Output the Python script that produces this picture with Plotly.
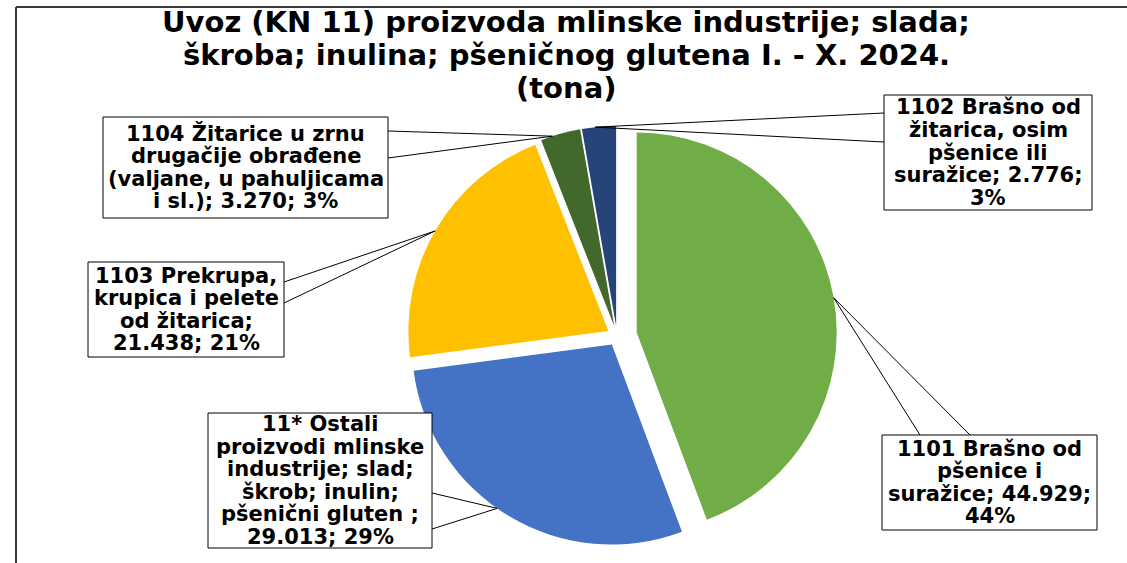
import math
import textwrap
import plotly.graph_objects as go

W, H = 1127, 563

# --- data -------------------------------------------------------------
names = [
    "1101 Brašno od pšenice i suražice",
    "11* Ostali proizvodi mlinske industrije; slad; škrob; inulin; pšenični gluten ",
    "1103 Prekrupa, krupica i pelete od žitarica",
    "1104 Žitarice u zrnu drugačije obrađene (valjane, u pahuljicama i sl.)",
    "1102 Brašno od žitarica, osim pšenice ili suražice",
]
tonnes = [44929, 29013, 21438, 3270, 2776]
colors = ["#70AD47", "#4472C4", "#FFC000", "#43682B", "#264478"]
title_lines = [
    "Uvoz (KN 11) proizvoda mlinske industrije; slada;",
    "škroba; inulina; pšeničnog glutena I. - X. 2024.",
    "(tona)",
]

# --- layout helpers ---------------------------------------------------
def px(x):
    return x / W


def py(y):
    return 1 - y / H


pulls = [0.1, 0.05, 0.05, 0.05, 0.05]
R = 200
CX, CY = 617, 336
S = 2 * R * (1 + max(pulls))

fig = go.Figure()
fig.add_trace(go.Pie(
    values=tonnes,
    labels=names,
    sort=False,
    direction="clockwise",
    rotation=0,
    pull=pulls,
    marker=dict(colors=colors, line=dict(width=0)),
    textinfo="none",
    hoverinfo="label+value+percent",
    showlegend=False,
    domain=dict(x=[px(CX - S / 2), px(CX + S / 2)],
                y=[py(CY + S / 2), py(CY - S / 2)]),
))

# data-label callouts: box (x0, y0, x1, y1), wedge base points, tip angle, wrap width
boxes = [
    (882, 435, 1097, 530),
    (208, 413, 432, 548),
    (88, 262, 284, 357),
    (103, 117, 388, 218),
    (884, 95, 1092, 210),
]
bases = [
    ((920, 435), (970, 435)),
    ((432, 493), (432, 529)),
    ((284, 282), (284, 303)),
    ((388, 131), (388, 158)),
    ((884, 113), (884, 142)),
]
tip_angles = [80, 215, 300, 342, 354]
wrap_widths = [17, 17, 16, 23, 16]

total = sum(tonnes)
shapes = []
annotations = []
LS = 22.5
cum = 0
for i, v in enumerate(tonnes):
    a0 = cum / total * 360
    cum += v
    a1 = cum / total * 360
    phi = math.radians((a0 + a1) / 2)
    ox = pulls[i] * R * math.sin(phi)
    oy = -pulls[i] * R * math.cos(phi)
    th = math.radians(tip_angles[i])
    tx = CX + ox + R * math.sin(th)
    ty = CY + oy - R * math.cos(th)

    (bx1, by1), (bx2, by2) = bases[i]
    shapes.append(dict(
        type="path", xref="paper", yref="paper",
        path=f"M {px(bx1)},{py(by1)} L {px(tx)},{py(ty)} L {px(bx2)},{py(by2)}",
        line=dict(color="black", width=1),
    ))
    x0, y0, x1, y1 = boxes[i]
    shapes.append(dict(
        type="rect", xref="paper", yref="paper",
        x0=px(x0), x1=px(x1), y0=py(y1), y1=py(y0),
        line=dict(color="black", width=1), fillcolor="white",
    ))

    value_txt = f"{v:,}".replace(",", ".")
    pct = round(100 * v / total)
    label = f"{names[i]}; {value_txt}; {pct}%"
    lines = textwrap.wrap(label, width=wrap_widths[i])
    cxb = (x0 + x1) / 2
    cyb = (y0 + y1) / 2
    n = len(lines)
    for j, ln in enumerate(lines):
        yc = cyb + (j - (n - 1) / 2) * LS
        annotations.append(dict(
            text=f"<b>{ln}</b>", x=px(cxb), y=py(yc), xref="paper", yref="paper",
            xanchor="center", yanchor="middle", showarrow=False,
            font=dict(family="DejaVu Sans", size=21, color="black"),
        ))

# chart title, one line per annotation for tight spacing
for j, (ln, yc) in enumerate(zip(title_lines, [22, 55, 88])):
    annotations.append(dict(
        text=f"<b>{ln}</b>", x=px(566), y=py(yc), xref="paper", yref="paper",
        xanchor="center", yanchor="middle", showarrow=False,
        font=dict(family="DejaVu Sans", size=29, color="black"),
    ))

# chart-area frame (left and top edges)
shapes.append(dict(type="line", xref="paper", yref="paper",
                   x0=px(16), x1=px(16), y0=py(563), y1=py(7),
                   line=dict(color="#3a3a3a", width=2)))
shapes.append(dict(type="line", xref="paper", yref="paper",
                   x0=px(16), x1=px(W), y0=py(7), y1=py(7),
                   line=dict(color="#3a3a3a", width=2)))

fig.update_layout(
    width=W, height=H,
    margin=dict(l=0, r=0, t=0, b=0),
    paper_bgcolor="white",
    plot_bgcolor="white",
    shapes=shapes,
    annotations=annotations,
)

fig.write_html("out.html")
